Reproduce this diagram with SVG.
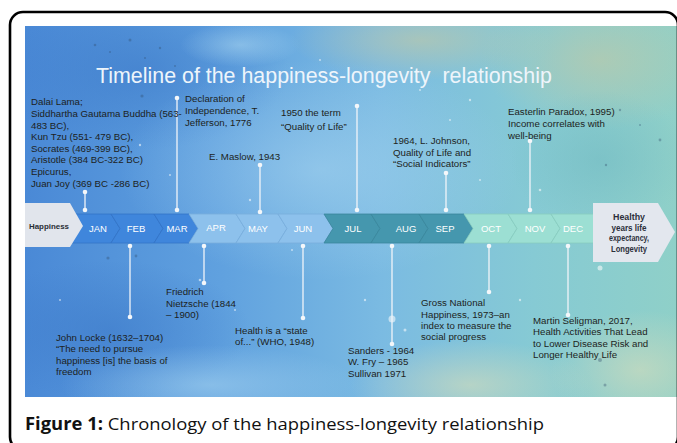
<svg xmlns="http://www.w3.org/2000/svg" width="677" height="443" viewBox="0 0 677 443">
<defs>
<style>
.lbl{font-family:"Liberation Sans",Arial,sans-serif;font-size:9.7px;fill:#1d1f22;}
.mon{font-family:"Liberation Sans",Arial,sans-serif;font-size:9.5px;fill:#ffffff;text-anchor:middle;}
.box{font-family:"Liberation Sans",Arial,sans-serif;font-size:9.2px;font-weight:bold;fill:#2c2f3a;text-anchor:middle;}
.con line{stroke:#f1f5f9;stroke-width:1.3;}
.con circle{fill:#f4f7fa;}
.c1{fill:#3f86dc;stroke:#3474c6;stroke-width:0.8;}
.c2{fill:#8dc1ec;stroke:#79addc;stroke-width:0.8;}
.c3{fill:#4597ae;stroke:#3a869c;stroke-width:0.8;}
.c4{fill:#9cdfd3;stroke:#88cbbf;stroke-width:0.8;}
</style>
<linearGradient id="bg" x1="0" y1="0" x2="1" y2="0">
<stop offset="0" stop-color="#4a89d6"/>
<stop offset="0.3" stop-color="#60a1df"/>
<stop offset="0.55" stop-color="#7bbbe2"/>
<stop offset="0.78" stop-color="#86cad4"/>
<stop offset="1" stop-color="#8fd0c8"/>
</linearGradient>
<radialGradient id="rDark"><stop offset="0" stop-color="#3b78c8" stop-opacity="0.55"/><stop offset="1" stop-color="#3b78c8" stop-opacity="0"/></radialGradient>
<radialGradient id="rLight"><stop offset="0" stop-color="#a9d6f0" stop-opacity="0.55"/><stop offset="1" stop-color="#a9d6f0" stop-opacity="0"/></radialGradient>
<radialGradient id="rSand"><stop offset="0" stop-color="#c3c9a4" stop-opacity="0.6"/><stop offset="1" stop-color="#c3c9a4" stop-opacity="0"/></radialGradient>
<radialGradient id="rCream"><stop offset="0" stop-color="#d2dcbc" stop-opacity="0.65"/><stop offset="1" stop-color="#d2dcbc" stop-opacity="0"/></radialGradient>
<radialGradient id="rTeal"><stop offset="0" stop-color="#6fb8c0" stop-opacity="0.5"/><stop offset="1" stop-color="#6fb8c0" stop-opacity="0"/></radialGradient>
<clipPath id="panel"><rect x="25" y="26" width="652" height="371"/></clipPath>
</defs>

<rect x="0" y="0" width="677" height="443" fill="#ffffff"/>

<g id="background" clip-path="url(#panel)">
<rect x="25" y="26" width="652" height="371" fill="url(#bg)"/>
<ellipse cx="140" cy="70" rx="150" ry="80" fill="url(#rDark)"/>
<ellipse cx="110" cy="330" rx="140" ry="70" fill="url(#rDark)"/>
<ellipse cx="320" cy="170" rx="200" ry="110" fill="url(#rLight)"/>
<ellipse cx="240" cy="45" rx="60" ry="22" fill="url(#rLight)"/>
<ellipse cx="210" cy="385" rx="150" ry="40" fill="url(#rLight)"/>
<ellipse cx="420" cy="40" rx="130" ry="40" fill="url(#rSand)"/>
<ellipse cx="600" cy="60" rx="120" ry="70" fill="url(#rSand)"/>
<ellipse cx="470" cy="385" rx="120" ry="45" fill="url(#rCream)"/>
<ellipse cx="640" cy="370" rx="90" ry="60" fill="url(#rCream)"/>
<ellipse cx="600" cy="160" rx="90" ry="70" fill="url(#rTeal)"/>
<g fill="#2f4b6a" opacity="0.35">
<circle cx="95" cy="45" r="1.3"/><circle cx="110" cy="52" r="1"/><circle cx="130" cy="40" r="1.5"/><circle cx="145" cy="58" r="1"/><circle cx="160" cy="48" r="1.2"/><circle cx="142" cy="96" r="1.6"/><circle cx="108" cy="70" r="1"/><circle cx="175" cy="66" r="1"/><circle cx="108" cy="258" r="1.6"/><circle cx="136" cy="256" r="1.4"/><circle cx="620" cy="110" r="1.2"/><circle cx="640" cy="125" r="1"/><circle cx="660" cy="140" r="1.4"/><circle cx="606" cy="165" r="1.2"/><circle cx="600" cy="360" r="2"/><circle cx="605" cy="385" r="1.5"/>
</g>
<g fill="#ffffff" opacity="0.55">
<circle cx="140" cy="145" r="1.2"/><circle cx="170" cy="175" r="1"/><circle cx="320" cy="60" r="1"/><circle cx="250" cy="200" r="1.2"/><circle cx="292" cy="250" r="1"/><circle cx="200" cy="280" r="1.3"/><circle cx="235" cy="310" r="1"/><circle cx="450" cy="120" r="1"/><circle cx="470" cy="100" r="1.2"/><circle cx="392" cy="319" r="3.5"/><circle cx="405" cy="330" r="1.5"/><circle cx="260" cy="330" r="1"/><circle cx="520" cy="300" r="1.2"/><circle cx="600" cy="268" r="2.5"/><circle cx="655" cy="235" r="1.5"/><circle cx="365" cy="300" r="1.2"/><circle cx="480" cy="180" r="1"/><circle cx="540" cy="190" r="1.3"/><circle cx="60" cy="300" r="1"/><circle cx="420" cy="90" r="1"/>
</g>
</g>

<g id="title">
<text x="96" y="83" xml:space="preserve" font-family="Liberation Sans, Arial, sans-serif" font-size="21.4" fill="#eef5fb">Timeline of the happiness-longevity  relationship</text>
</g>

<g id="band">
<polygon class="c1" points="66,214 111,214 120,228.5 111,243 66,243 75,228.5"/>
<polygon class="c1" points="111,214 154,214 163,228.5 154,243 111,243 120,228.5"/>
<polygon class="c1" points="154,214 189,214 198,228.5 189,243 154,243 163,228.5"/>
<polygon class="c2" points="189,214 236,214 245,228.5 236,243 189,243 198,228.5"/>
<polygon class="c2" points="236,214 278,214 287,228.5 278,243 236,243 245,228.5"/>
<polygon class="c2" points="278,214 324,214 333,228.5 324,243 278,243 287,228.5"/>
<polygon class="c3" points="324,214 371,214 380,228.5 371,243 324,243 333,228.5"/>
<polygon class="c3" points="371,214 419,214 428,228.5 419,243 371,243 380,228.5"/>
<polygon class="c3" points="419,214 464,214 473,228.5 464,243 419,243 428,228.5"/>
<polygon class="c4" points="464,214 508,214 517,228.5 508,243 464,243 473,228.5"/>
<polygon class="c4" points="508,214 551,214 560,228.5 551,243 508,243 517,228.5"/>
<polygon class="c4" points="551,214 596,214 605,228.5 596,243 551,243 560,228.5"/>
<text class="mon" x="98" y="232">JAN</text>
<text class="mon" x="136" y="232">FEB</text>
<text class="mon" x="177" y="232">MAR</text>
<text class="mon" x="216" y="231">APR</text>
<text class="mon" x="258" y="232">MAY</text>
<text class="mon" x="303" y="232">JUN</text>
<text class="mon" x="353" y="232">JUL</text>
<text class="mon" x="406" y="232">AUG</text>
<text class="mon" x="445" y="232">SEP</text>
<text class="mon" x="491" y="232">OCT</text>
<text class="mon" x="535" y="232">NOV</text>
<text class="mon" x="573" y="232">DEC</text>
</g>

<g id="node-happiness">
<polygon points="25,203 70,203 83,226 70,247 25,247" fill="#e1e5ec"/>
<text x="29" y="229" font-family="Liberation Sans, Arial, sans-serif" font-size="7.6" font-weight="bold" fill="#2a2d35" textLength="40" lengthAdjust="spacingAndGlyphs">Happiness</text>
</g>

<g id="node-longevity">
<polygon points="593,203 658,203 675,232 658,262 593,262" fill="#e3e7ee"/>
<text class="box" x="629" y="220" textLength="32" lengthAdjust="spacingAndGlyphs">Healthy</text>
<text class="box" x="629" y="230.5" textLength="35" lengthAdjust="spacingAndGlyphs">years life</text>
<text class="box" x="629" y="241" textLength="40" lengthAdjust="spacingAndGlyphs">expectancy,</text>
<text class="box" x="629" y="252" textLength="36" lengthAdjust="spacingAndGlyphs">Longevity</text>
</g>

<g id="connectors" class="con">
<line x1="85" y1="192" x2="85" y2="210"/><circle cx="85" cy="192" r="2.3"/><circle cx="85" cy="210" r="2.3"/>
<line x1="177" y1="98" x2="177" y2="210"/><circle cx="177" cy="98" r="2.3"/><circle cx="177" cy="210" r="2.3"/>
<line x1="260" y1="165" x2="260" y2="212"/><circle cx="260" cy="165" r="2.3"/><circle cx="260" cy="212" r="2.3"/>
<line x1="357" y1="106" x2="357" y2="210"/><circle cx="357" cy="106" r="2.3"/><circle cx="357" cy="210" r="2.3"/>
<line x1="446" y1="173" x2="446" y2="210"/><circle cx="446" cy="173" r="2.3"/><circle cx="446" cy="210" r="2.3"/>
<line x1="530" y1="141" x2="530" y2="210"/><circle cx="530" cy="141" r="2.3"/><circle cx="530" cy="210" r="2.3"/>
<line x1="130" y1="246" x2="130" y2="317"/><circle cx="130" cy="246" r="2.3"/><circle cx="130" cy="317" r="2.3"/>
<line x1="204" y1="246" x2="204" y2="283"/><circle cx="204" cy="246" r="2.3"/><circle cx="204" cy="283" r="2.3"/>
<line x1="303" y1="246" x2="303" y2="318"/><circle cx="303" cy="246" r="2.3"/><circle cx="303" cy="318" r="2.3"/>
<line x1="392" y1="246" x2="392" y2="344"/><circle cx="392" cy="246" r="2.3"/><circle cx="392" cy="344" r="2.3"/>
<line x1="489" y1="246" x2="489" y2="292"/><circle cx="489" cy="246" r="2.3"/><circle cx="489" cy="292" r="2.3"/>
<line x1="568" y1="246" x2="568" y2="315"/><circle cx="568" cy="246" r="2.3"/><circle cx="568" cy="315" r="2.3"/>
</g>

<g id="node-philosophers" class="lbl">
<text x="31" y="105">Dalai Lama;</text>
<text x="31" y="116.5">Siddhartha Gautama Buddha (563-</text>
<text x="31" y="128.5">483 BC),</text>
<text x="31" y="140">Kun Tzu (551- 479 BC),</text>
<text x="31" y="151.5">Socrates (469-399 BC),</text>
<text x="31" y="163">Aristotle (384 BC-322 BC)</text>
<text x="31" y="175">Epicurus,</text>
<text x="31" y="186.5">Juan Joy (369 BC -286 BC)</text>
</g>
<g id="node-declaration" class="lbl">
<text x="185" y="102">Declaration of</text>
<text x="185" y="114">Independence, T.</text>
<text x="185" y="126">Jefferson, 1776</text>
</g>
<g id="node-maslow" class="lbl"><text x="209" y="160">E. Maslow, 1943</text></g>
<g id="node-qol" class="lbl">
<text x="281" y="116">1950 the term</text>
<text x="281" y="130">“Quality of Life”</text>
</g>
<g id="node-johnson" class="lbl">
<text x="393" y="144">1964, L. Johnson,</text>
<text x="393" y="155.5">Quality of Life and</text>
<text x="393" y="167">“Social Indicators”</text>
</g>
<g id="node-easterlin" class="lbl">
<text x="508" y="115">Easterlin Paradox, 1995)</text>
<text x="508" y="126.5">Income correlates with</text>
<text x="508" y="139">well-being</text>
</g>
<g id="node-locke" class="lbl">
<text x="56" y="341">John Locke (1632–1704)</text>
<text x="56" y="352">“The need to pursue</text>
<text x="56" y="363.5">happiness [is] the basis of</text>
<text x="56" y="374.5">freedom</text>
</g>
<g id="node-nietzsche" class="lbl">
<text x="166" y="295">Friedrich</text>
<text x="166" y="306.5">Nietzsche (1844</text>
<text x="166" y="318">– 1900)</text>
</g>
<g id="node-who" class="lbl">
<text x="235" y="334">Health is a “state</text>
<text x="235" y="345">of...” (WHO, 1948)</text>
</g>
<g id="node-sanders" class="lbl">
<text x="348" y="354">Sanders - 1964</text>
<text x="348" y="365">W. Fry – 1965</text>
<text x="348" y="377">Sullivan 1971</text>
</g>
<g id="node-gnh" class="lbl">
<text x="421" y="306">Gross National</text>
<text x="421" y="317.5">Happiness, 1973–an</text>
<text x="421" y="329">index to measure the</text>
<text x="421" y="340">social progress</text>
</g>
<g id="node-seligman" class="lbl">
<text x="533" y="324">Martin Seligman, 2017,</text>
<text x="533" y="335">Health Activities That Lead</text>
<text x="533" y="346.5">to Lower Disease Risk and</text>
<text x="533" y="358">Longer Healthy Life</text>
</g>

<g id="caption">
<text x="25" y="430" font-family="Open Sans, Liberation Sans, sans-serif" font-size="17" fill="#111111" textLength="519" lengthAdjust="spacingAndGlyphs"><tspan font-weight="bold">Figure 1:</tspan> Chronology of the happiness-longevity relationship</text>
</g>

<rect id="frame" x="10" y="12" width="668" height="438" rx="13" fill="none" stroke="#000000" stroke-width="2.6"/>
</svg>
